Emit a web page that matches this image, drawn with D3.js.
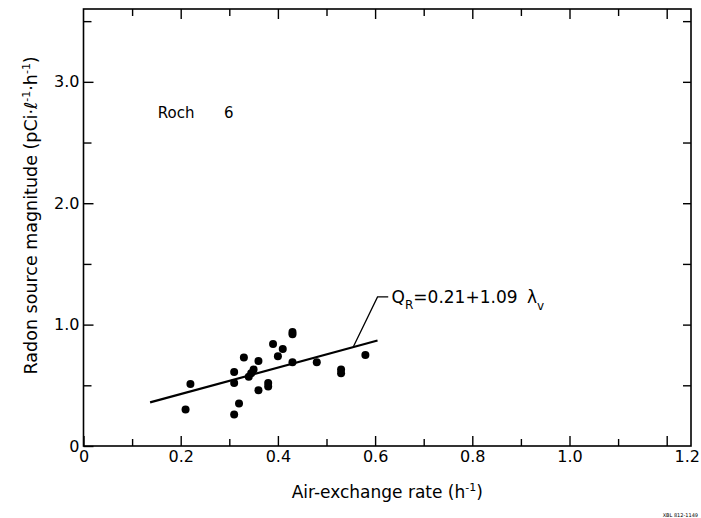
<!DOCTYPE html>
<html>
<head>
<meta charset="utf-8">
<script src="https://cdn.jsdelivr.net/npm/d3@7"></script>
<style>
  body { margin: 0; background: #fff; }
  svg text { font-family: "DejaVu Sans", "Liberation Sans", sans-serif; fill: #000; }
  .tick line { stroke: #000; stroke-width: 1.4; }
</style>
</head>
<body>
<svg width="701" height="518"></svg>
<script>
// air-exchange rate (h^-1) and radon source magnitude (pCi/l/h)
var rate   = [0.21, 0.22, 0.31, 0.31, 0.31, 0.32, 0.33, 0.34, 0.345, 0.35, 0.36, 0.36,
              0.38, 0.38, 0.39, 0.40, 0.41, 0.43, 0.43, 0.43, 0.48, 0.53, 0.53, 0.58];
var source = [0.30, 0.51, 0.61, 0.52, 0.26, 0.35, 0.73, 0.57, 0.60, 0.63, 0.70, 0.46,
              0.52, 0.49, 0.84, 0.74, 0.80, 0.92, 0.94, 0.69, 0.69, 0.63, 0.60, 0.75];

// fitted line QR = 0.21 + 1.09 * lambda_v
var fitIntercept = 0.21, fitSlope = 1.09;
var fitRange = [0.137, 0.605];

var xMajor = [0, 0.2, 0.4, 0.6, 0.8, 1.0, 1.2];
var xMinor = [0.1, 0.3, 0.5, 0.7, 0.9, 1.1];
var yMajor = [0, 1, 2, 3];
var yMinor = [0.5, 1.5, 2.5, 3.5];

var margin = {top: 9, right: 10, bottom: 72, left: 83.5},
    width = 701 - margin.left - margin.right,
    height = 518 - margin.top - margin.bottom;

var x = d3.scaleLinear().domain([0, 1.25]).range([0, width]);
var y = d3.scaleLinear().domain([0, 3.6]).range([height, 0]);

var svg = d3.select("svg")
  .append("g")
    .attr("transform", "translate(" + margin.left + "," + margin.top + ")");

var fmt = function(d) { return d === 0 ? "0" : d.toFixed(1); };

// bottom axis, ticks point inward
svg.append("g")
    .attr("class", "x axis")
    .attr("transform", "translate(0," + height + ")")
    .call(d3.axisBottom(x).tickValues(xMajor).tickSize(-10).tickPadding(5).tickFormat(fmt));
svg.append("g")
    .attr("transform", "translate(0," + height + ")")
    .call(d3.axisBottom(x).tickValues(xMinor).tickSize(-7).tickFormat(""));

// the "1.2" label sits out at the corner in the original
svg.select(".x.axis").selectAll(".tick text")
    .filter(function(d) { return d === 1.2; })
    .attr("dx", 20);

// top axis, no labels
svg.append("g")
    .call(d3.axisTop(x).tickValues(xMajor.slice(1)).tickSize(-10).tickFormat(""));
svg.append("g")
    .call(d3.axisTop(x).tickValues(xMinor).tickSize(-7).tickFormat(""));

// left axis
svg.append("g")
    .attr("class", "y axis")
    .call(d3.axisLeft(y).tickValues(yMajor).tickSize(-10).tickPadding(4).tickFormat(fmt));
svg.append("g")
    .call(d3.axisLeft(y).tickValues(yMinor).tickSize(-8).tickFormat(""));

// right axis
svg.append("g")
    .attr("transform", "translate(" + width + ",0)")
    .call(d3.axisRight(y).tickValues(yMajor.slice(1).concat(yMinor)).tickSize(-8).tickFormat(""));

svg.selectAll(".domain").remove();
svg.selectAll(".tick text").style("font-size", "16px");

// frame
svg.append("rect")
    .attr("width", width)
    .attr("height", height)
    .attr("fill", "none")
    .attr("stroke", "#000")
    .attr("stroke-width", 1.6);

// fitted line
svg.append("line")
    .attr("x1", x(fitRange[0]))
    .attr("y1", y(fitIntercept + fitSlope * fitRange[0]))
    .attr("x2", x(fitRange[1]))
    .attr("y2", y(fitIntercept + fitSlope * fitRange[1]))
    .attr("stroke", "#000")
    .attr("stroke-width", 2.2);

// points
svg.selectAll(".dot")
    .data(rate)
  .enter().append("circle")
    .attr("class", "dot")
    .attr("cx", function(d) { return x(d); })
    .attr("cy", function(d, i) { return y(source[i]); })
    .attr("r", 4)
    .attr("fill", "#000");

// leader to the equation
var leader = [[0.555, fitIntercept + fitSlope * 0.555], [0.605, 1.228], [0.627, 1.228]];
svg.append("path")
    .attr("d", d3.line().x(function(d) { return x(d[0]); }).y(function(d) { return y(d[1]); })(leader))
    .attr("fill", "none")
    .attr("stroke", "#000")
    .attr("stroke-width", 1.3);

var eq = svg.append("text")
    .attr("x", x(0.634))
    .attr("y", y(1.175))
    .style("font-size", "17px");
eq.append("tspan").text("Q");
eq.append("tspan").attr("dy", 6).style("font-size", "12px").text("R");
eq.append("tspan").attr("dy", -6).text("=0.21+1.09 ");
eq.append("tspan").attr("dx", 4).text("λ");
eq.append("tspan").attr("dy", 7).style("font-size", "12px").text("v");

// house label
svg.append("text")
    .attr("x", x(0.153))
    .attr("y", y(2.70))
    .style("font-size", "15px")
    .text("Roch");
svg.append("text")
    .attr("x", x(0.289))
    .attr("y", y(2.70))
    .style("font-size", "15px")
    .text("6");

// axis titles
var xt = svg.append("text")
    .attr("x", width / 2)
    .attr("y", height + 52)
    .style("text-anchor", "middle")
    .style("font-size", "17px");
xt.append("tspan").text("Air-exchange rate (h");
xt.append("tspan").attr("dy", -7).style("font-size", "11px").text("-1");
xt.append("tspan").attr("dy", 7).text(")");

var yt = svg.append("text")
    .attr("transform", "rotate(-90)")
    .attr("x", -(y(1.9)))
    .attr("y", -margin.left + 37)
    .style("text-anchor", "middle")
    .style("font-size", "17.5px");
yt.append("tspan").text("Radon source magnitude (pCi·");
yt.append("tspan").style("font-style", "italic").text("ℓ");
yt.append("tspan").attr("dy", -7).style("font-size", "11px").text("-1");
yt.append("tspan").attr("dy", 7).text("·h");
yt.append("tspan").attr("dy", -7).style("font-size", "11px").text("-1");
yt.append("tspan").attr("dy", 7).text(")");

// drawing number stamp
d3.select("svg").append("text")
    .attr("x", 698)
    .attr("y", 517)
    .style("text-anchor", "end")
    .style("font-size", "5px")
    .text("XBL 812-1149");
</script>
</body>
</html>
